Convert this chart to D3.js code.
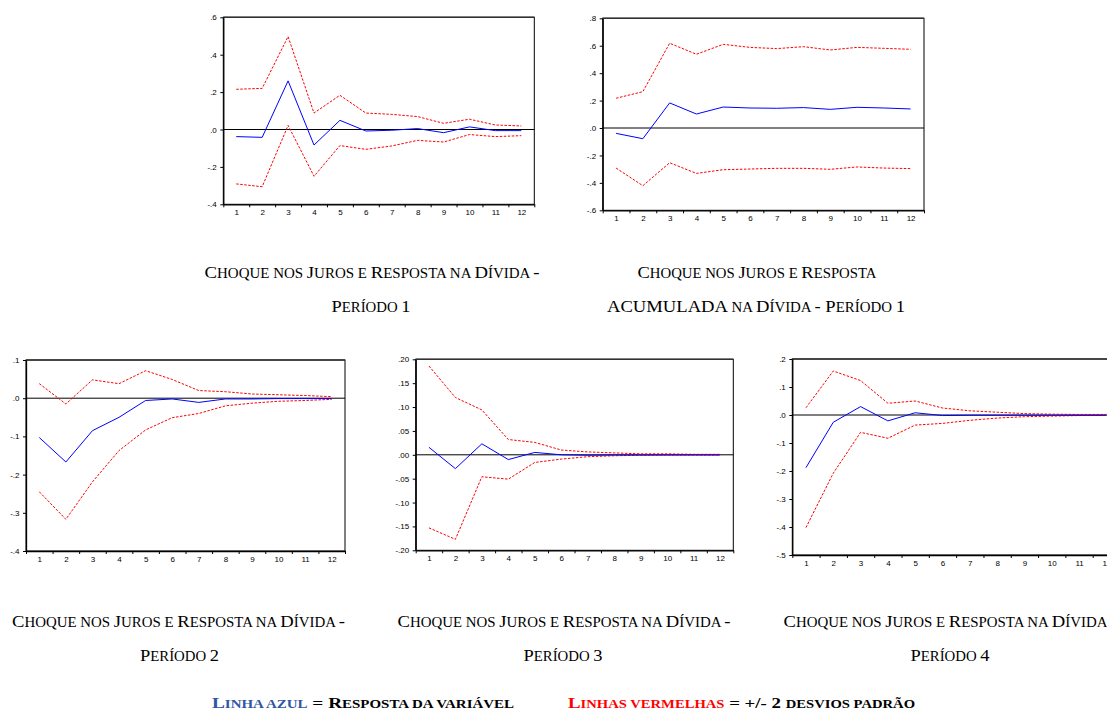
<!DOCTYPE html>
<html>
<head>
<meta charset="utf-8">
<script src="https://cdn.jsdelivr.net/npm/d3@7"></script>
<style>
  body { margin: 0; background: #fff; }
  svg { display: block; }
  .tick text { font-family: "Liberation Sans", Arial, sans-serif; font-size: 8px; fill: #000; }
  .cap { font-family: "Liberation Serif", "Times New Roman", serif; fill: #000; }
</style>
</head>
<body>
<div id="viz"></div>
<script>
// horizon (periods after the shock)
const periods = [1, 2, 3, 4, 5, 6, 7, 8, 9, 10, 11, 12];

// Choque nos juros -> divida, periodo 1
const p1Resp  = [-0.038, -0.042, 0.260, -0.083, 0.049, -0.008, -0.004, 0.005, -0.017, 0.014, -0.006, -0.006];
const p1Upper = [0.215, 0.220, 0.497, 0.088, 0.183, 0.088, 0.081, 0.069, 0.033, 0.055, 0.024, 0.019];
const p1Lower = [-0.291, -0.306, 0.022, -0.250, -0.086, -0.106, -0.088, -0.058, -0.067, -0.027, -0.038, -0.033];
const p1Ticks = [-0.4, -0.2, 0, 0.2, 0.4, 0.6];

// resposta acumulada, periodo 1
const accResp  = [-0.039, -0.078, 0.183, 0.102, 0.153, 0.146, 0.144, 0.149, 0.136, 0.151, 0.146, 0.139];
const accUpper = [0.217, 0.265, 0.618, 0.538, 0.610, 0.588, 0.579, 0.593, 0.569, 0.588, 0.581, 0.574];
const accLower = [-0.292, -0.421, -0.253, -0.331, -0.304, -0.299, -0.294, -0.294, -0.301, -0.284, -0.292, -0.296];
const accTicks = [-0.6, -0.4, -0.2, 0, 0.2, 0.4, 0.6, 0.8];

// periodo 2
const p2Resp  = [-0.103, -0.167, -0.085, -0.050, -0.006, -0.002, -0.011, -0.002, -0.002, -0.001, -0.001, -0.001];
const p2Upper = [0.038, -0.015, 0.048, 0.038, 0.072, 0.049, 0.020, 0.017, 0.011, 0.009, 0.007, 0.004];
const p2Lower = [-0.245, -0.317, -0.219, -0.137, -0.083, -0.051, -0.040, -0.020, -0.013, -0.008, -0.006, -0.003];
const p2Ticks = [-0.4, -0.3, -0.2, -0.1, 0, 0.1];

// periodo 3
const p3Resp  = [0.0157, -0.029, 0.023, -0.010, 0.005, 0.000, -0.001, -0.0005, -0.0005, -0.0003, -0.0002, -0.0002];
const p3Upper = [0.186, 0.120, 0.094, 0.032, 0.026, 0.010, 0.006, 0.004, 0.002, 0.002, 0.001, 0.001];
const p3Lower = [-0.153, -0.177, -0.046, -0.051, -0.016, -0.009, -0.004, -0.002, -0.001, -0.0005, -0.0005, -0.0005];
const p3Ticks = [-0.20, -0.15, -0.10, -0.05, 0, 0.05, 0.10, 0.15, 0.20];

// periodo 4
const p4Resp  = [-0.188, -0.026, 0.030, -0.021, 0.008, -0.002, -0.001, -0.001, -0.001, -0.001, -0.001, -0.001];
const p4Upper = [0.026, 0.157, 0.123, 0.042, 0.050, 0.025, 0.015, 0.010, 0.005, 0.003, 0.002, 0.002];
const p4Lower = [-0.402, -0.208, -0.062, -0.083, -0.036, -0.030, -0.019, -0.011, -0.006, -0.004, -0.002, -0.001];
const p4Ticks = [-0.5, -0.4, -0.3, -0.2, -0.1, 0, 0.1, 0.2];

// caption lines: [centre x, baseline y, text, width in px]
const panels = [
  { resp: p1Resp, upper: p1Upper, lower: p1Lower, ticks: p1Ticks, dec: 1,
    box: [223.3, 17.3, 534.3, 204.3],
    cap: [[372, 278, 'Choque nos Juros e Resposta na Dívida -', 335], [371, 312, 'Período 1', 79]] },
  { resp: accResp, upper: accUpper, lower: accLower, ticks: accTicks, dec: 1,
    box: [602.7, 18.3, 924, 210.3],
    cap: [[757, 278, 'Choque nos Juros e Resposta', 239], [756, 312, 'ACUMULADA na Dívida - Período 1', 298]] },
  { resp: p2Resp, upper: p2Upper, lower: p2Lower, ticks: p2Ticks, dec: 1,
    box: [26, 360, 345, 551],
    cap: [[178.5, 627, 'Choque nos Juros e Resposta na Dívida -', 333], [179.5, 661, 'Período 2', 79]] },
  { resp: p3Resp, upper: p3Upper, lower: p3Lower, ticks: p3Ticks, dec: 2,
    box: [415.7, 359.3, 733.3, 550.3],
    cap: [[564, 627, 'Choque nos Juros e Resposta na Dívida -', 333], [563, 661, 'Período 3', 79]] },
  { resp: p4Resp, upper: p4Upper, lower: p4Lower, ticks: p4Ticks, dec: 1,
    box: [792.3, 359, 1120, 555],
    cap: [[950, 627, 'Choque nos Juros e Resposta na Dívida -', 333], [950, 661, 'Período 4', 79]] }
];

const width = 1107, height = 711;
const svg = d3.select('#viz').append('svg')
  .attr('width', width)
  .attr('height', height);

const fmt = (dec) => (v) => {
  let s = Math.abs(v) < 1e-9 ? (0).toFixed(dec) : v.toFixed(dec);
  return s.replace(/^(-?)0\./, '$1.');
};

// small caps done by hand: lowercase runs get upper-cased and a smaller size
function smallCaps(text, str, big, small) {
  const runs = [];
  for (const ch of str) {
    const low = ch !== ch.toUpperCase();
    const last = runs[runs.length - 1];
    if (last && (last.low === low || ch === ' ')) last.s += ch;
    else runs.push({ low, s: ch });
  }
  runs.forEach((r) => {
    text.append('tspan')
      .attr('font-size', r.low ? small : big)
      .text(r.low ? r.s.toUpperCase() : r.s);
  });
  return text;
}

panels.forEach((p) => {
  const [x0, y0, x1, y1] = p.box;
  const g = svg.append('g');

  const x = d3.scaleLinear().domain([0.5, 12.5]).range([x0, x1]);
  const y = d3.scaleLinear().domain(d3.extent(p.ticks)).range([y1, y0]);

  g.append('rect')
    .attr('x', x0).attr('y', y0)
    .attr('width', x1 - x0).attr('height', y1 - y0)
    .attr('fill', 'none').attr('stroke', '#000').attr('stroke-width', 1);
  g.append('line')
    .attr('x1', x0).attr('x2', x1)
    .attr('y1', y0).attr('y2', y0)
    .attr('stroke', '#333').attr('stroke-width', 1.6);

  const yAxis = g.append('g')
    .attr('transform', `translate(${x0},0)`)
    .call(d3.axisLeft(y).tickValues(p.ticks).tickSize(3).tickSizeOuter(0)
      .tickPadding(3.5).tickFormat(fmt(p.dec)));
  yAxis.select('.domain').attr('stroke-width', 1.3);

  const bounds = d3.range(13).map((i) => i + 0.5);
  g.append('g')
    .attr('transform', `translate(0,${y1})`)
    .call(d3.axisBottom(x).tickValues(bounds).tickSize(3).tickSizeOuter(0).tickFormat(''))
    .select('.domain').attr('stroke-width', 1.3);
  g.append('g')
    .attr('transform', `translate(0,${y1})`)
    .call(d3.axisBottom(x).tickValues(periods).tickSize(0).tickPadding(5.5).tickFormat(d3.format('d')))
    .select('.domain').remove();

  g.append('line')
    .attr('x1', x0).attr('x2', x1)
    .attr('y1', y(0)).attr('y2', y(0))
    .attr('stroke', '#000').attr('stroke-width', 1);

  const line = (vals) => d3.line()
    .x((d, i) => x(periods[i]))
    .y((d) => y(d))(vals);

  [p.upper, p.lower].forEach((vals) => {
    g.append('path')
      .attr('d', line(vals))
      .attr('fill', 'none')
      .attr('stroke', '#ff0000')
      .attr('stroke-width', 1)
      .attr('stroke-dasharray', '2.5,1.5');
  });
  g.append('path')
    .attr('d', line(p.resp))
    .attr('fill', 'none')
    .attr('stroke', '#0000ff')
    .attr('stroke-width', 1);

  p.cap.forEach(([cx, cy, str, w]) => {
    smallCaps(svg.append('text').attr('class', 'cap')
      .attr('x', cx).attr('y', cy)
      .attr('text-anchor', 'middle')
      .attr('textLength', w)
      .attr('lengthAdjust', 'spacingAndGlyphs'), str, 17.5, 14);
  });
});

// legend line at the bottom
const leg = svg.append('text').attr('class', 'cap')
  .attr('x', 212).attr('y', 708)
  .attr('font-weight', 'bold')
  .attr('textLength', 302)
  .attr('lengthAdjust', 'spacingAndGlyphs');
smallCaps(leg.append('tspan').attr('fill', '#2f55a4'), 'Linha azul', 15.5, 12);
smallCaps(leg.append('tspan'), ' = Resposta da variável', 15.5, 12);

const leg2 = svg.append('text').attr('class', 'cap')
  .attr('x', 568).attr('y', 708)
  .attr('font-weight', 'bold')
  .attr('textLength', 347)
  .attr('lengthAdjust', 'spacingAndGlyphs');
smallCaps(leg2.append('tspan').attr('fill', '#ff0000'), 'Linhas vermelhas', 15.5, 12);
smallCaps(leg2.append('tspan'), ' = +/- 2 desvios padrão', 15.5, 12);
</script>
</body>
</html>
